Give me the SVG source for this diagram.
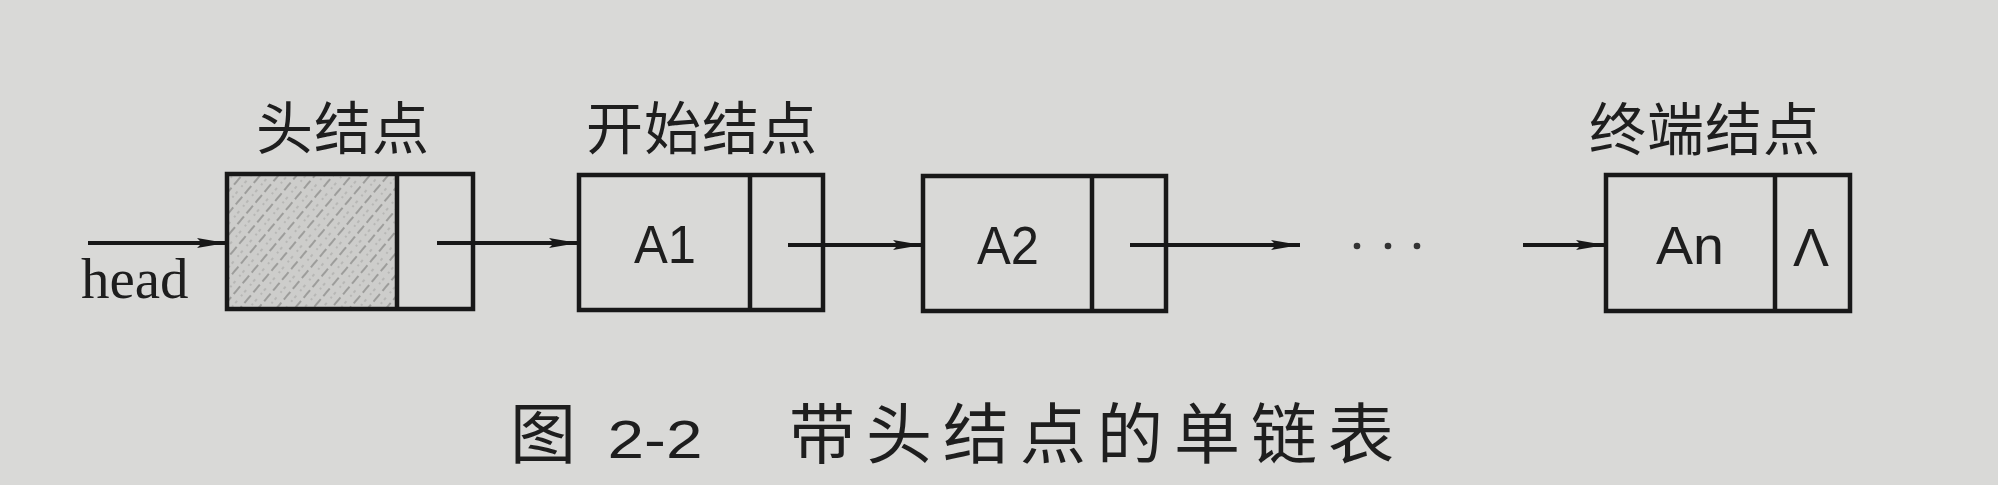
<svg xmlns="http://www.w3.org/2000/svg" width="1998" height="485" viewBox="0 0 1998 485">
  <defs>
    <style>
      .box { fill: none; stroke: #181818; stroke-width: 4.5; }
      .div { stroke: #181818; stroke-width: 4.5; }
      .link { stroke: #181818; stroke-width: 3.8; fill: none; }
      .cjk { font-family: "Noto Sans CJK SC", "Noto Sans", sans-serif; fill: #1e1e1e; }
      .lbl { font-size: 57px; letter-spacing: 1px; }
      .data { font-family: "Liberation Sans", Arial, sans-serif; font-size: 53px; fill: #1e1e1e; text-anchor: middle; }
      .serif { font-family: "Liberation Serif", "Times New Roman", serif; fill: #1e1e1e; }
      .cap { font-size: 66px; }
    </style>
    <marker id="arr" markerWidth="30" markerHeight="14" refX="29" refY="7" orient="auto" markerUnits="userSpaceOnUse">
      <path d="M0,2 L29,7 L0,12 L5,7 Z" fill="#181818"/>
    </marker>
    <pattern id="hatch" width="14" height="14" patternUnits="userSpaceOnUse" patternTransform="rotate(-50)">
      <rect width="14" height="14" fill="#cdcdcb"/>
      <line x1="0" y1="4" x2="14" y2="4" stroke="#8d8d8b" stroke-width="1.6" stroke-dasharray="5 4"/>
      <line x1="3" y1="11" x2="14" y2="11" stroke="#a2a2a0" stroke-width="1.2" stroke-dasharray="3 6"/>
    </pattern>
  </defs>

  <rect x="0" y="0" width="1998" height="485" fill="#d9d9d7"/>

  <g id="connectors">
    <line class="link" x1="88" y1="243" x2="226" y2="243" marker-end="url(#arr)"/>
    <line class="link" x1="437" y1="243" x2="578" y2="243" marker-end="url(#arr)"/>
    <line class="link" x1="788" y1="245" x2="922" y2="245" marker-end="url(#arr)"/>
    <line class="link" x1="1130" y1="245" x2="1300" y2="245" marker-end="url(#arr)"/>
    <line class="link" x1="1523" y1="245" x2="1605" y2="245" marker-end="url(#arr)"/>
    <g id="ellipsis" fill="#333333">
      <circle cx="1357" cy="246" r="3.3"/>
      <circle cx="1388" cy="246" r="3.3"/>
      <circle cx="1417" cy="246" r="3.3"/>
    </g>
  </g>

  <g id="head-label">
    <text class="serif" x="81" y="298" font-size="57">head</text>
  </g>

  <g id="head-node">
    <text class="cjk lbl" x="256" y="149">头结点</text>
    <rect x="227" y="174" width="170" height="135" fill="url(#hatch)"/>
    <rect class="box" x="227" y="174" width="246" height="135"/>
    <line class="div" x1="397" y1="174" x2="397" y2="309"/>
  </g>

  <g id="node-a1">
    <text class="cjk lbl" x="586" y="149">开始结点</text>
    <rect class="box" x="579" y="175" width="244" height="135"/>
    <line class="div" x1="750" y1="175" x2="750" y2="310"/>
    <text class="data" x="665" y="263" textLength="62" lengthAdjust="spacingAndGlyphs">A1</text>
  </g>

  <g id="node-a2">
    <rect class="box" x="923" y="176" width="243" height="135"/>
    <line class="div" x1="1092" y1="176" x2="1092" y2="311"/>
    <text class="data" x="1008" y="264" textLength="62" lengthAdjust="spacingAndGlyphs">A2</text>
  </g>

  <g id="node-an">
    <text class="cjk lbl" x="1589" y="150">终端结点</text>
    <rect class="box" x="1606" y="175" width="244" height="136"/>
    <line class="div" x1="1775" y1="175" x2="1775" y2="311"/>
    <text class="data" x="1690" y="264" textLength="68" lengthAdjust="spacingAndGlyphs">An</text>
    <text class="data" x="1811" y="266" font-size="60" textLength="36" lengthAdjust="spacingAndGlyphs">Λ</text>
  </g>

  <g id="caption">
    <text class="cjk cap" x="510" y="458">图</text>
    <text class="data" x="655" y="458" font-size="66" textLength="95" lengthAdjust="spacingAndGlyphs">2-2</text>
    <text class="cjk cap" x="789" y="458" letter-spacing="11">带头结点的单链表</text>
  </g>
</svg>
